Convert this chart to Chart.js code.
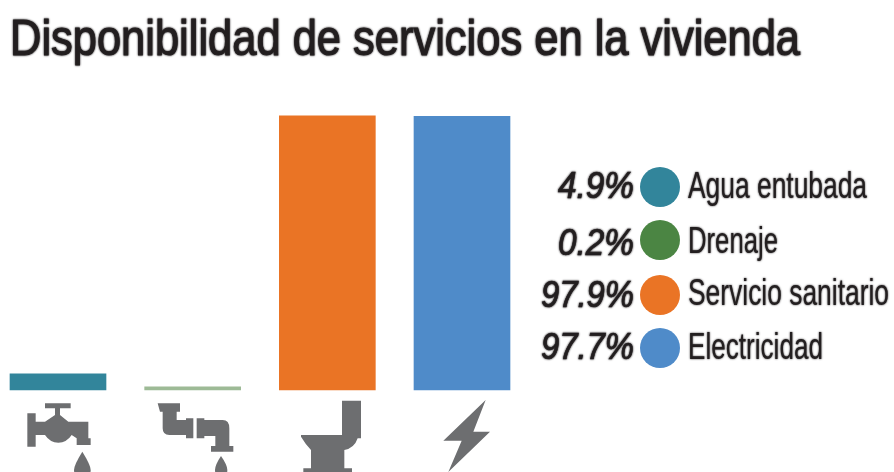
<!DOCTYPE html>
<html>
<head>
<meta charset="utf-8">
<style>
html,body{margin:0;padding:0;background:#fff}
#wrap{position:absolute;left:0;top:0;width:894px;height:472px}
</style>
<script src="https://cdn.jsdelivr.net/npm/chart.js@4"></script>
</head>
<body>
<div id="wrap"><canvas id="c" width="894" height="472"></canvas></div>
<script>
const categories = ["Agua entubada", "Drenaje", "Servicio sanitario", "Electricidad"];
const values = [4.9, 0.2, 97.9, 97.7];
const valueLabels = ["4.9%", "0.2%", "97.9%", "97.7%"];
const colors = ["#32859b", "#4b8543", "#ea7425", "#4f8bc9"];
const barColors = ["#32859b", "#9dba96", "#ea7425", "#4f8bc9"];
const titleText = "Disponibilidad de servicios en la vivienda";
const iconColor = "#6d6e70";

const labelWidths = [179, 90, 201, 135];
const valueWidths = [76, 76, 93, 93];
const circleRows = [187, 240, 295, 348];
const valueBaselines = [198, 255, 307, 359];
const labelBaselines = [198, 253, 305, 359];

// Pictograms under each column, drawn relative to the column centre (units are 1/3 px)
const icons = [
  {ox: 174, paths: [
    "M135 100H212V115H180V135L205 155H265V205H272V225H230V205L215 195Q200 218 175 218Q150 218 135 195H107V230H82V130H107V155H135L165 135V115H135Z",
    "M247 245Q272 285 272 300Q272 322 247 322Q222 322 222 300Q222 285 247 245Z"]},
  {ox: 580, paths: [
    "M475 100H542V125H532V150H560V145H582V205H560V195H510Q490 195 490 175V125H482Z",
    "M592 145H615V150H670Q690 150 690 175V228H702V245H635V228H648V198H615V205H592Z",
    "M665 258Q684 285 684 300Q684 322 665 322Q647 322 647 300Q647 285 665 258Z"]},
  {ox: 984, paths: [
    "M1028 92H1085V205H1075Q1065 235 1035 240V295H1058V306H912V295H935V240Q920 225 905 200V195H1028Z"]},
  {ox: 1386, paths: [
    "M1457 90L1420 185H1470L1345 306L1385 212H1330Z"]}
];

const decor = {
  id: "decor",
  afterDraw(chart) {
    const ctx = chart.ctx, x = chart.scales.x;
    ctx.save();
    ctx.fillStyle = "#231f20";
    ctx.strokeStyle = "#231f20";
    ctx.textBaseline = "alphabetic";
    ctx.textAlign = "left";
    ctx.shadowColor = "#231f20";
    ctx.shadowBlur = 2;
    ctx.font = '50px "Liberation Sans"';
    ctx.lineWidth = 1;
    ctx.fillText(titleText, 10, 55, 790);
    ctx.strokeText(titleText, 10, 55, 790);

    categories.forEach((name, i) => {
      ctx.shadowBlur = 0;
      ctx.fillStyle = colors[i];
      ctx.beginPath();
      ctx.arc(660, circleRows[i], 20, 0, Math.PI * 2);
      ctx.fill();
      ctx.shadowBlur = 2;
      ctx.fillStyle = "#231f20";
      ctx.textAlign = "right";
      ctx.font = 'italic 36px "Liberation Sans"';
      ctx.lineWidth = 0.7;
      ctx.fillText(valueLabels[i], 634, valueBaselines[i], valueWidths[i]);
      ctx.strokeText(valueLabels[i], 634, valueBaselines[i], valueWidths[i]);
      ctx.textAlign = "left";
      ctx.font = '36px "Liberation Sans"';
      ctx.fillText(name, 688, labelBaselines[i], labelWidths[i]);
    });
    ctx.shadowBlur = 0;

    ctx.fillStyle = iconColor;
    icons.forEach((ic, i) => {
      ctx.save();
      ctx.translate(x.getPixelForValue(i) - ic.ox / 3, 370);
      ctx.scale(1 / 3, 1 / 3);
      ic.paths.forEach(p => ctx.fill(new Path2D(p)));
      ctx.restore();
    });
    ctx.restore();
  }
};

new Chart(document.getElementById("c"), {
  type: "bar",
  data: {
    labels: categories,
    datasets: [{
      data: values,
      backgroundColor: barColors,
      base: -0.9,
      borderWidth: 0,
      barThickness: 96,
      clip: false
    }]
  },
  options: {
    responsive: false,
    animation: false,
    layout: {padding: {left: 58, right: 432, top: 110, bottom: 82}},
    plugins: {legend: {display: false}, tooltip: {enabled: false}, title: {display: false}},
    scales: {
      x: {display: false, offset: false},
      y: {display: false, min: -0.9, max: 100}
    }
  },
  plugins: [decor]
});
</script>
</body>
</html>
